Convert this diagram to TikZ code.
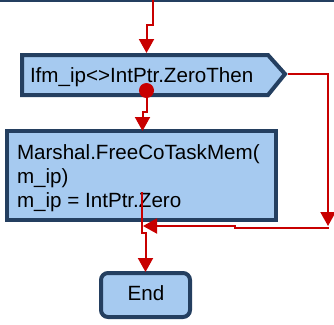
\documentclass[tikz,border=0pt]{standalone}
\usepackage{fontspec}
\setmainfont{Liberation Sans}
\usetikzlibrary{arrows.meta}
\definecolor{boxfill}{RGB}{166,202,240}
\definecolor{boxedge}{RGB}{36,63,96}
\definecolor{flowred}{RGB}{200,0,0}
\tikzset{
  flowbox/.style={draw=boxedge, fill=boxfill, line width=4pt, inner sep=0pt, outer sep=0pt},
  flowtext/.style={inner sep=0pt, outer sep=0pt, font=\fontsize{20.6}{24}\selectfont, text=black},
  flow/.style={draw=flowred, line width=2pt, -{Triangle[length=14pt,width=15pt]}},
}
\begin{document}
\begin{tikzpicture}[x=1pt,y=-1pt]
\useasboundingbox (0,0) rectangle (334,324);

% bottom edge of the preceding step
\fill[boxedge] (0,-3) rectangle (334,2);
\coordinate (incoming) at (153,0);

% decision
\filldraw[flowbox] (22,55) -- (268,55) -- (285,74) -- (268,95) -- (22,95) -- cycle;
\coordinate (dtop) at (146.5,53);
\coordinate (dtip) at (288,74);
\node[flowtext, anchor=base west] (dlabel) at (30,82) {Ifm\_ip<>IntPtr.ZeroThen};

% action box
\node[flowbox, minimum width=269pt, minimum height=89pt] (proc) at (141.5,175.5) {};
\node[flowtext, anchor=base west] (pl1) at (17,159) {Marshal.FreeCoTaskMem(};
\node[flowtext, anchor=base west] (pl2) at (17,183) {m\_ip)};
\node[flowtext, anchor=base west] (pl3) at (17,207) {m\_ip = IntPtr.Zero};
\coordinate (ptop) at (142.5,131);
\coordinate (pout) at (142,192);

% terminator
\node[flowbox, rounded corners=7pt, minimum width=89pt, minimum height=44pt] (end) at (145.5,295) {};
\node[flowtext, anchor=base] (elabel) at (146,300.5) {End};
\coordinate (etop) at (145.5,272);

% connectors
\draw[flow] (incoming) -- (153,25) -- (146.5,25) -- (dtop);
\node[circle, fill=flowred, minimum size=15pt, inner sep=0pt] (dot) at (146.5,90.5) {};
\draw[flow] (dot) -- (146.5,112) -- (142.5,112) -- (ptop);
\draw[flow] (dtip) -- (328,74) -- (328,226);
\draw[flow] (329,227.5) -- (235,227.5) -- (235,226) -- (143,226);
\draw[flow] (pout) -- (142,233) -- (145.5,233) -- (etop);
\end{tikzpicture}
\end{document}
